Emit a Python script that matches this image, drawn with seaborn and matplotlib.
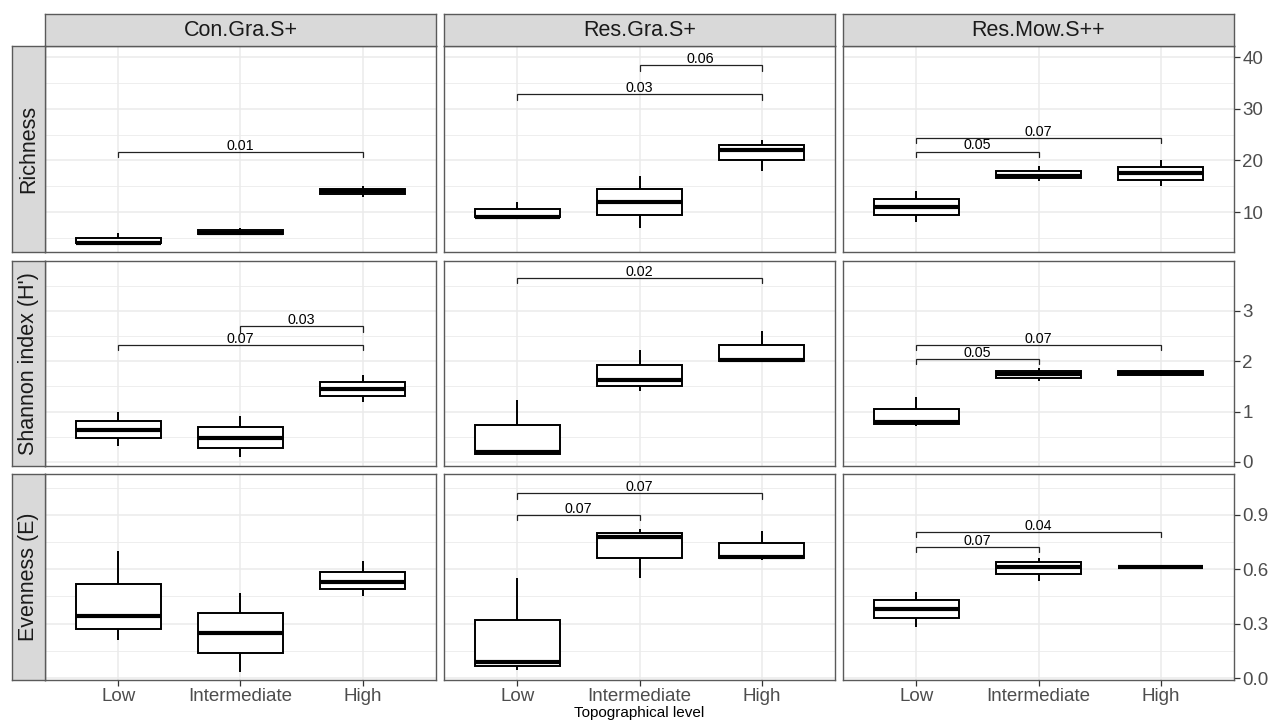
import numpy as np
import pandas as pd
import matplotlib
matplotlib.use("Agg")
import matplotlib.pyplot as plt
import seaborn as sns

# ---------------- data ----------------
levels = ["Low", "Intermediate", "High"]
sites = ["Con.Gra.S+", "Res.Gra.S+", "Res.Mow.S++"]
metrics = ["Richness", "Shannon index (H')", "Evenness (E)"]

# five-number summaries [min, Q1, median, Q3, max] for Low, Intermediate, High
richness_con_gra = [[4, 4, 4, 5, 6], [5.8, 5.8, 6, 6.5, 7], [13, 13.5, 14, 14.5, 15]]
richness_res_gra = [[9, 9, 9, 10.5, 12], [7, 9.5, 12, 14.5, 17], [18, 20, 22, 23, 24]]
richness_res_mow = [[8, 9.5, 11, 12.5, 14], [16, 16.5, 17, 18, 19], [15, 16.25, 17.5, 18.75, 20]]

shannon_con_gra = [[0.32, 0.47, 0.63, 0.82, 0.99], [0.09, 0.28, 0.47, 0.70, 0.92], [1.19, 1.31, 1.45, 1.59, 1.72]]
shannon_res_gra = [[0.13, 0.16, 0.19, 0.73, 1.23], [1.40, 1.50, 1.62, 1.93, 2.22], [1.98, 2.00, 2.02, 2.32, 2.60]]
shannon_res_mow = [[0.71, 0.75, 0.80, 1.05, 1.28], [1.61, 1.67, 1.74, 1.81, 1.86], [1.70, 1.72, 1.76, 1.80, 1.83]]

evenness_con_gra = [[0.21, 0.27, 0.34, 0.52, 0.70], [0.035, 0.14, 0.25, 0.36, 0.47], [0.45, 0.49, 0.53, 0.585, 0.645]]
evenness_res_gra = [[0.044, 0.065, 0.087, 0.32, 0.55], [0.55, 0.665, 0.78, 0.80, 0.82], [0.65, 0.66, 0.67, 0.745, 0.81]]
evenness_res_mow = [[0.28, 0.33, 0.38, 0.43, 0.475], [0.537, 0.573, 0.61, 0.64, 0.663], [0.61, 0.61, 0.61, 0.61, 0.61]]

# significance brackets: (from level index, to level index, bracket height, p-value label)
pv_richness_con_gra = [(0, 2, 21.6, "0.01")]
pv_richness_res_gra = [(0, 2, 32.8, "0.03"), (1, 2, 38.4, "0.06")]
pv_richness_res_mow = [(0, 1, 21.7, "0.05"), (0, 2, 24.4, "0.07")]
pv_shannon_con_gra = [(0, 2, 2.33, "0.07"), (1, 2, 2.69, "0.03")]
pv_shannon_res_gra = [(0, 2, 3.65, "0.02")]
pv_shannon_res_mow = [(0, 1, 2.05, "0.05"), (0, 2, 2.32, "0.07")]
pv_evenness_con_gra = []
pv_evenness_res_gra = [(0, 1, 0.90, "0.07"), (0, 2, 1.02, "0.07")]
pv_evenness_res_mow = [(0, 1, 0.725, "0.07"), (0, 2, 0.808, "0.04")]

y_ticks = [[10, 20, 30, 40], [0, 1, 2, 3], [0.0, 0.3, 0.6, 0.9]]
y_tick_labels = [["10", "20", "30", "40"], ["0", "1", "2", "3"], ["0.0", "0.3", "0.6", "0.9"]]
y_minor = [[5, 15, 25, 35], [0.5, 1.5, 2.5, 3.5], [0.15, 0.45, 0.75, 1.05]]
y_limits = [(2.26, 42.13), (-0.08, 3.99), (-0.011, 1.126)]

grid_data = [
    [richness_con_gra, richness_res_gra, richness_res_mow],
    [shannon_con_gra, shannon_res_gra, shannon_res_mow],
    [evenness_con_gra, evenness_res_gra, evenness_res_mow],
]
grid_pv = [
    [pv_richness_con_gra, pv_richness_res_gra, pv_richness_res_mow],
    [pv_shannon_con_gra, pv_shannon_res_gra, pv_shannon_res_mow],
    [pv_evenness_con_gra, pv_evenness_res_gra, pv_evenness_res_mow],
]

# ---------------- style ----------------
sns.set_theme(style="white")
plt.rcParams["font.family"] = ["Liberation Sans", "DejaVu Sans"]

W, H = 1270, 722
fig = plt.figure(figsize=(W / 100, H / 100), dpi=100)

col_x = [(45, 436), (444, 835), (843, 1234)]
row_y = [(46, 252), (261, 466), (474, 680)]
border_col = "#5a5a5a"
grid_col = "#EBEBEB"


def frac_box(x0, x1, y0, y1):
    return [x0 / W, 1 - y1 / H, (x1 - x0) / W, (y1 - y0) / H]


for r in range(3):
    for c in range(3):
        ax = fig.add_axes(frac_box(col_x[c][0], col_x[c][1], row_y[r][0], row_y[r][1]))
        summ = grid_data[r][c]
        df = pd.DataFrame({
            "level": np.repeat(levels, 5),
            "value": np.concatenate([np.asarray(v, dtype=float) for v in summ]),
        })
        # grid lines
        for yv in y_ticks[r]:
            ax.axhline(yv, color=grid_col, lw=1.1, zorder=0)
        for yv in y_minor[r]:
            ax.axhline(yv, color=grid_col, lw=0.6, zorder=0)
        for xv in range(3):
            ax.axvline(xv, color=grid_col, lw=1.1, zorder=0)

        sns.boxplot(data=df, x="level", y="value", order=levels, ax=ax,
                    width=0.7, color="white", saturation=1, linecolor="black",
                    linewidth=1.4, whis=1.5, fliersize=0, showcaps=False,
                    medianprops=dict(linewidth=3.0, color="black"),
                    zorder=2)
        ax.set_xlim(-0.6, 2.6)
        ylo, yhi = y_limits[r]
        ax.set_ylim(ylo, yhi)
        tip = 0.026 * (yhi - ylo)
        for (i, j, yb, lab) in grid_pv[r][c]:
            ax.plot([i, i, j, j], [yb - tip, yb, yb, yb - tip], color="#222222",
                    lw=0.9, zorder=3, solid_joinstyle="miter")
            ax.annotate(lab, xy=((i + j) / 2, yb), xytext=(0, 1.5),
                        textcoords="offset points", ha="center", va="baseline",
                        fontsize=10.3, color="black", zorder=4)
        ax.set_xlabel("")
        ax.set_ylabel("")
        ax.set_facecolor("white")
        for s in ax.spines.values():
            s.set_visible(True)
            s.set_color(border_col)
            s.set_linewidth(1.0)
        ax.set_yticks(y_ticks[r])
        if c == 2:
            ax.yaxis.tick_right()
            ax.set_yticklabels(y_tick_labels[r])
            ax.tick_params(axis="y", which="major", right=True, left=False,
                           labelright=True, labelleft=False, length=4,
                           width=0.9, color="#333333", labelsize=13.5,
                           labelcolor="#4D4D4D", pad=2)
        else:
            ax.tick_params(axis="y", left=False, right=False,
                           labelleft=False, labelright=False)
        ax.set_xticks(range(3))
        if r == 2:
            ax.set_xticklabels(levels)
            ax.tick_params(axis="x", bottom=True, length=4, width=0.9,
                           color="#333333", labelsize=13.5,
                           labelcolor="#4D4D4D", pad=2)
        else:
            ax.tick_params(axis="x", bottom=False, labelbottom=False)

# column strips
for c in range(3):
    sax = fig.add_axes(frac_box(col_x[c][0], col_x[c][1], 14, 46))
    sax.set_facecolor("#D9D9D9")
    sax.set_xticks([]); sax.set_yticks([])
    for s in sax.spines.values():
        s.set_color(border_col); s.set_linewidth(1.0)
    sax.text(0.5, 0.5, sites[c], ha="center", va="center", fontsize=15.5,
             color="#1A1A1A", transform=sax.transAxes)

# row strips (left)
for r in range(3):
    sax = fig.add_axes(frac_box(12, 45, row_y[r][0], row_y[r][1]))
    sax.set_facecolor("#D9D9D9")
    sax.set_xticks([]); sax.set_yticks([])
    for s in sax.spines.values():
        s.set_color(border_col); s.set_linewidth(1.0)
    sax.text(0.5, 0.5, metrics[r], ha="center", va="center", fontsize=15.5,
             color="#1A1A1A", rotation=90, transform=sax.transAxes)

fig.text((45 + 1234) / 2 / W, 1 - 713 / H, "Topographical level", ha="center",
         va="center", fontsize=11, color="black")

fig.savefig("out.png", dpi=100)
